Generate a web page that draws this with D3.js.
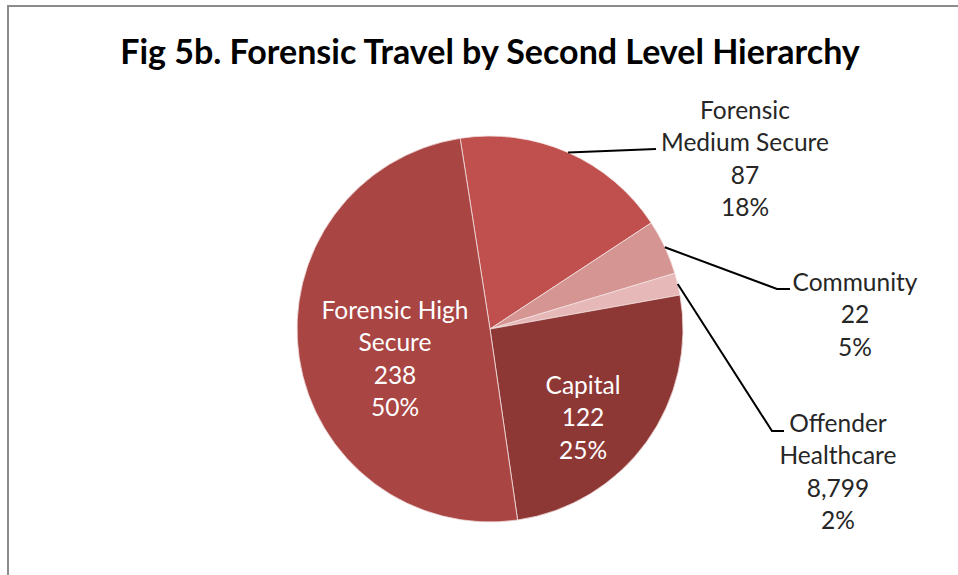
<!DOCTYPE html>
<html>
<head>
<meta charset="utf-8">
<script src="https://cdn.jsdelivr.net/npm/d3@7"></script>
<style>
  html, body { margin: 0; padding: 0; background: #fff; }
  svg { display: block; }
</style>
</head>
<body>
<svg></svg>
<script>
// Data
var categories = ["Forensic Medium Secure", "Community", "Offender Healthcare", "Capital", "Forensic High Secure"];
var values = [87, 22, 8.799, 122, 238];
var valueLabels = ["87", "22", "8,799", "122", "238"];
var pctLabels = ["18%", "5%", "2%", "25%", "50%"];
var labelLines = [["Forensic", "Medium Secure"], ["Community"], ["Offender", "Healthcare"], ["Capital"], ["Forensic High", "Secure"]];
var colors = ["#C0504D", "#D59593", "#E6B9B8", "#8E3836", "#A94543"];

var width = 958, height = 575;
var cx = 490, cy = 329, radius = 193;
var font = "Lato, 'Open Sans', sans-serif";

var svg = d3.select("svg")
    .attr("width", width)
    .attr("height", height);

// chart frame (only top + left edges visible)
svg.append("path")
    .attr("d", "M8," + height + " L8,6 L" + width + ",6")
    .attr("fill", "none")
    .attr("stroke", "#8c8c8c")
    .attr("stroke-width", 2);

// title
svg.append("text")
    .attr("x", 490)
    .attr("y", 64)
    .attr("text-anchor", "middle")
    .style("font-family", font)
    .style("font-weight", "bold")
    .style("font-size", "34px")
    .attr("fill", "#000")
    .text("Fig 5b. Forensic Travel by Second Level Hierarchy");

var start = -8.9 * Math.PI / 180;
var pie = d3.pie()
    .sort(null)
    .startAngle(start)
    .endAngle(start + 2 * Math.PI)
    .value(function(d) { return d; });

var arcs = pie(values);
var arc = d3.arc().innerRadius(0).outerRadius(radius);

var g = svg.append("g")
    .attr("transform", "translate(" + cx + "," + cy + ")");

g.selectAll("path.slice")
    .data(arcs)
    .join("path")
    .attr("class", "slice")
    .attr("d", arc)
    .attr("fill", function(d, i) { return colors[i]; })
    .attr("stroke", "#f3e0df")
    .attr("stroke-width", 0.8);

// label placement: inside (centre of text block) or outside with leader
var placement = [
    {outside: true, elbow: [656, 149], end: [656, 149], tx: 745, ty: 110},
    {outside: true, elbow: [777, 289], end: [790, 289], tx: 855, ty: 282},
    {outside: true, elbow: [772, 431], end: [784, 431], tx: 838, ty: 423},
    {outside: false, tx: 583, ty: 385},
    {outside: false, tx: 395, ty: 310}
];
var lineH = 32.5;

arcs.forEach(function(a, i) {
    var p = placement[i];
    var lines = labelLines[i].concat([valueLabels[i], pctLabels[i]]);
    if (p.outside) {
        var mid = (a.startAngle + a.endAngle) / 2;
        var sx = cx + radius * Math.sin(mid), sy = cy - radius * Math.cos(mid);
        svg.append("polyline")
            .attr("points", [[sx, sy], p.elbow, p.end].map(function(q) { return q.join(","); }).join(" "))
            .attr("fill", "none")
            .attr("stroke", "#000")
            .attr("stroke-width", 2);
    }
    var t = svg.append("text")
        .attr("text-anchor", "middle")
        .style("font-family", font)
        .style("font-size", "24.5px")
        .attr("fill", p.outside ? "#262626" : "#fff");
    lines.forEach(function(s, k) {
        t.append("tspan")
            .attr("x", p.tx)
            .attr("y", p.ty + k * lineH)
            .attr("dy", "0.35em")
            .text(s);
    });
});
</script>
</body>
</html>
